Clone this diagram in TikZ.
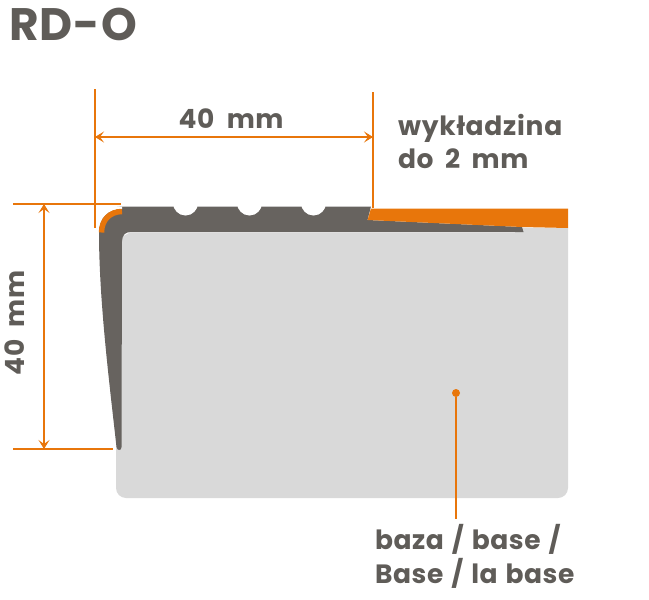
\documentclass[tikz,border=0pt]{standalone}
\usepackage{fontspec}
\setmainfont{Poppins}[LetterSpace=2.0]
\newfontfamily\widefam{Poppins}[LetterSpace=2.8]
\usetikzlibrary{arrows.meta}
\definecolor{txtgrey}{HTML}{5F5C58}
\definecolor{profilegrey}{HTML}{67635F}
\definecolor{baseorange}{HTML}{E8760B}
\definecolor{basegrey}{HTML}{D9D9D9}
\newcommand{\labsize}{\bfseries\fontsize{26.5}{33}\selectfont}
\newcommand{\labwide}{\labsize\spaceskip=12.5pt\relax}
\newcommand{\labmid}{\labsize\spaceskip=11.5pt\relax}
\newcommand{\labtight}{\labsize\spaceskip=8pt\relax}
\tikzset{
  dimline/.style={draw=baseorange,line width=2.7pt},
  dimarrow/.style={dimline,{Stealth[length=9pt,width=11pt,inset=4pt]}-{Stealth[length=9pt,width=11pt,inset=4pt]}},
  lab/.style={text=txtgrey,font=\labwide,inner sep=0pt},
  tightlab/.style={lab,font=\labtight},
}
\begin{document}
\begin{tikzpicture}[x=1pt,y=-1pt]
\useasboundingbox (0,0) rectangle (649,600);
% base
\fill[basegrey] (130,232.5) -- (515,232.5) -- (515,227.5) -- (568,227.5) -- (568,488) arc[start angle=0,end angle=90,radius=10] -- (126,498) arc[start angle=90,end angle=180,radius=10] -- (116,240) -- cycle;
% profile
\fill[profilegrey] (122,206.5) -- (371,206.5) -- (367.5,220) -- (522,227) -- (523.5,232) -- (131,232)
  .. controls (125,232) and (122.5,235) .. (122,241) -- (121.5,447)
  .. controls (121.5,451) and (117,451) .. (116.5,447)
  .. controls (109,380) and (99,300) .. (99,232)
  .. controls (99,218) and (108,206.5) .. (122,206.5) -- cycle;
\foreach \cx in {185.5,249.5,313.5} \fill[white] (\cx,203) circle[radius=12.5];
% white outer corner and orange cap
\fill[white] (99,206.5) -- (122,206.5) -- (122,209) .. controls (108,209) and (99,218) .. (99,232) -- cycle;
\draw[baseorange,line width=5.5pt] (122,211.5) .. controls (110,211.5) and (101.5,220) .. (101.5,232.5);
% covering
\fill[baseorange] (371,208.5) -- (568,208.5) -- (568,228) -- (522,227) -- (367.5,220) -- cycle;
% dimension lines
\coordinate (vl1) at (95,89);  \coordinate (vl2) at (95,228);
\coordinate (vr1) at (373,92); \coordinate (vr2) at (373,208);
\coordinate (ht1) at (13,204); \coordinate (ht2) at (121,204);
\coordinate (hb1) at (13,449); \coordinate (hb2) at (113,449);
\coordinate (ah1) at (95,137); \coordinate (ah2) at (373,137);
\coordinate (av1) at (44,204); \coordinate (av2) at (44,449);
\draw[dimline] (vl1) -- (vl2);
\draw[dimline] (vr1) -- (vr2);
\draw[dimline] (ht1) -- (ht2);
\draw[dimline] (hb1) -- (hb2);
\draw[dimarrow] (ah1) -- (ah2);
\draw[dimarrow] (av1) -- (av2);
% leader
\node[circle,fill=baseorange,minimum size=8pt,inner sep=0pt] (dot) at (456,393) {};
\coordinate (leadend) at (456,519);
\draw[baseorange,line width=2.2pt] (dot) -- (leadend);
% labels
\node[text=txtgrey,font=\bfseries\fontsize{45.5}{46}\selectfont,inner sep=0pt,anchor=base west] (title) at (9,40) {RD-O};
\node[lab,anchor=base] (top) at (231,128) {40 mm};
\node[lab,anchor=base,rotate=90] (side) at (24,323) {40 mm};
\node[lab,font=\widefam\labsize,anchor=base west] (w1) at (398,135) {wykładzina};
\node[lab,font=\labmid,anchor=base west] (w2) at (398,168) {do 2 mm};
\node[tightlab,anchor=base west] (b1) at (375,549) {baza / base /};
\node[tightlab,anchor=base west] (b2) at (375,583) {Base / la base};
\end{tikzpicture}
\end{document}
